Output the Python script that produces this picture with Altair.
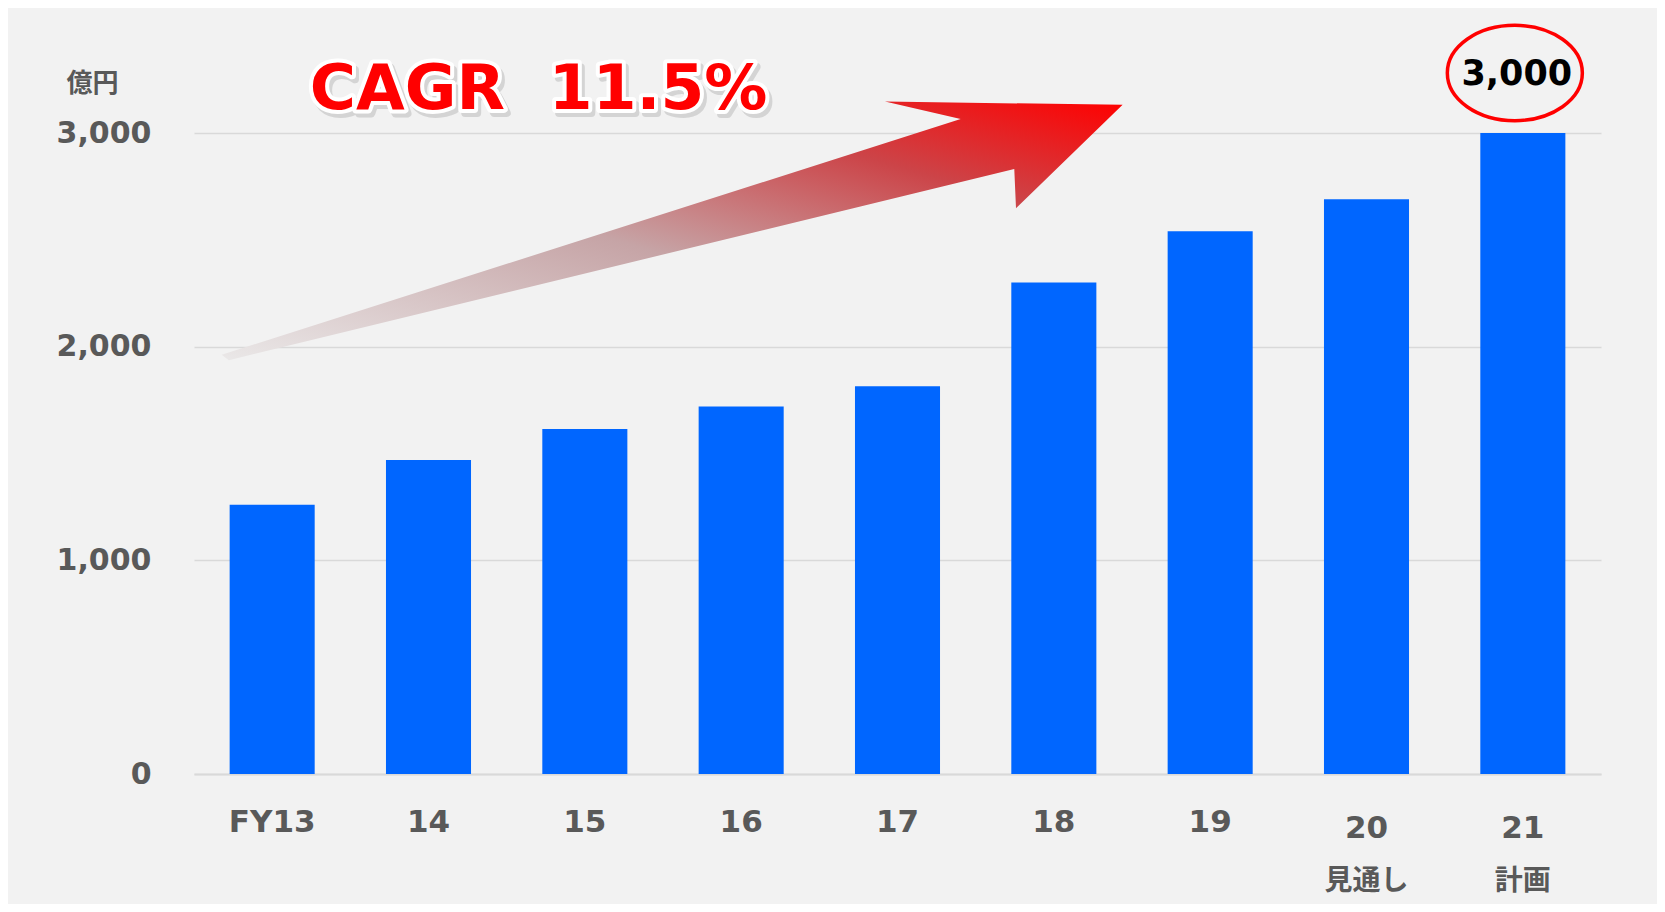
import altair as alt
import pandas as pd

# ---- data ----
years = ["FY13", "14", "15", "16", "17", "18", "19", "20", "21"]
sublabels = ["", "", "", "", "", "", "", "見通し", "計画"]
sales = [1260, 1470, 1615, 1720, 1815, 2300, 2540, 2690, 3000]

# CAGR arrow outline (x in category-slot units 0..9, y in 億円)
arrow_x = [0.177, 4.904, 4.420, 5.940, 5.258, 5.247, 0.223]
arrow_y = [1962, 3065, 3147, 3132, 2648, 2831, 1937]

cagr_text = ["CAGR\u00a0 11.5%"]
cagr_x = [2.204]
cagr_y = [3113]

df = pd.DataFrame({"year": years, "sub": sublabels, "value": sales})
arrow_df = pd.DataFrame({"ax": arrow_x, "ay": arrow_y, "o": list(range(len(arrow_x)))})
cagr_df = pd.DataFrame({"t": cagr_text, "cx": cagr_x, "cy": cagr_y})

W, H = 1407, 641
yscale = alt.Scale(domain=[0, 3000], nice=False, zero=True)
xband = alt.Scale(paddingInner=0.456, paddingOuter=0.228)

GREY = "#595959"

base = alt.Chart(df)

bars = base.mark_bar(color="#0066ff").encode(
    x=alt.X("year:N", sort=None, scale=xband,
            axis=alt.Axis(title=None, labelAngle=0, labelFont="DejaVu Sans",
                          labelFontSize=31, labelFontWeight="bold", labelColor=GREY,
                          labelBaseline="middle",
                          labelPadding={"condition": {"test": "datum.value == '20' || datum.value == '21'", "value": 54}, "value": 48},
                          ticks=False, tickSize=0, domain=True, domainColor="#d9d9d9",
                          domainWidth=2, grid=False)),
    y=alt.Y("value:Q", scale=yscale,
            axis=alt.Axis(title="億円", titleAngle=0, titleX=-102, titleY=-50,
                          titleAlign="center", titleBaseline="middle",
                          titleFont="Noto Sans CJK JP", titleFontSize=26,
                          titleFontWeight="bold", titleColor=GREY,
                          values=[0, 1000, 2000, 3000], format=",.0f",
                          labelFont="DejaVu Sans", labelFontSize=30, labelFontWeight="bold",
                          labelColor=GREY, labelPadding=43, ticks=False, tickSize=0,
                          domain=False, grid=True, gridColor="#d9d9d9", gridWidth=1.5)),
)

sub_text = base.mark_text(font="Noto Sans CJK JP", fontSize=28, fontWeight="bold",
                          color=GREY, baseline="middle").encode(
    x=alt.X("year:N", sort=None, scale=xband),
    y=alt.value(749),
    text="sub:N",
)

last = base.transform_filter("datum.year == '21'")
top_label = last.mark_text(font="DejaVu Sans", fontSize=35, fontWeight="bold",
                           color="#000000", baseline="middle", dy=-59, dx=-6).encode(
    x=alt.X("year:N", sort=None, scale=xband),
    y=alt.Y("value:Q", scale=yscale),
    text=alt.Text("value:Q", format=",.0f"),
)
ellipse = last.mark_point(
    shape="M-1,0A1,0.706,0,1,1,1,0A1,0.706,0,1,1,-1,0Z",
    size=135 * 135, filled=False, stroke="#ff0000", strokeWidth=3.5, opacity=1,
    xOffset=-8, yOffset=-60,
).encode(
    x=alt.X("year:N", sort=None, scale=xband),
    y=alt.Y("value:Q", scale=yscale),
)

cat_layer = alt.layer(bars, sub_text, ellipse, top_label)

xq = alt.Scale(domain=[0, 9], nice=False, zero=False)

gradient = {
    "gradient": "linear", "x1": 0, "y1": 1, "x2": 1, "y2": 0,
    "stops": [
        {"offset": 0.0, "color": "#eae8e8"},
        {"offset": 0.45, "color": "#c6a4a6"},
        {"offset": 0.75, "color": "#cc4448"},
        {"offset": 1.0, "color": "#ff0000"},
    ],
}

arrow = alt.Chart(arrow_df).mark_line(
    interpolate="linear-closed", fill=gradient, strokeOpacity=0, strokeWidth=0
).encode(
    x=alt.X("ax:Q", scale=xq, axis=None),
    y=alt.Y("ay:Q", scale=yscale),
    order="o:Q",
)

cagr_base = alt.Chart(cagr_df)
cagr_enc = dict(
    x=alt.X("cx:Q", scale=xq, axis=None),
    y=alt.Y("cy:Q", scale=yscale),
    text="t:N",
)
txt_props = dict(font="DejaVu Sans", fontSize=63, fontWeight="bold",
                 align="center", baseline="alphabetic")
cagr_shadow = cagr_base.mark_text(color="#b0b0b0", stroke="#c8c8c8", strokeWidth=8,
                                  strokeJoin="round", opacity=0.7, dx=3, dy=4,
                                  **txt_props).encode(**cagr_enc)
cagr_outline = cagr_base.mark_text(color="#ffffff", stroke="#ffffff", strokeWidth=8,
                                   strokeJoin="round", **txt_props).encode(**cagr_enc)
cagr_fill = cagr_base.mark_text(color="#ff0000", **txt_props).encode(**cagr_enc)

q_layer = alt.layer(arrow, cagr_shadow, cagr_outline, cagr_fill)

chart = alt.layer(cat_layer, q_layer).resolve_scale(x="independent").properties(
    width=W, height=H,
    autosize=alt.AutoSizeParams(type="none"),
    padding={"left": 186, "top": 125, "right": 56, "bottom": 130},
    background="#f2f2f2",
).configure_view(stroke=None)

chart.save("out.html", embed_options={"renderer": "svg", "actions": False})
